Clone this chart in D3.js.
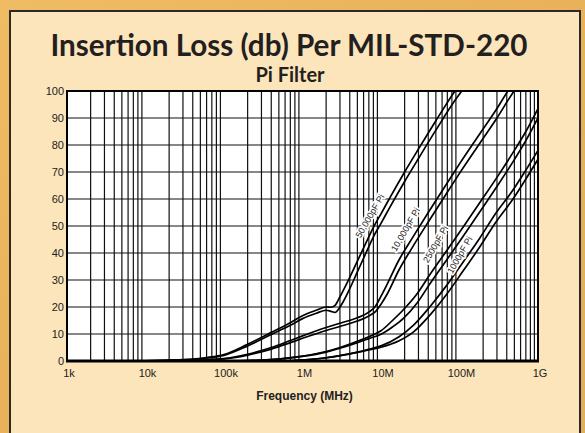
<!DOCTYPE html>
<meta charset="utf-8">
<style>
    body {
        margin: 0;
        background: #eab35c;
    }

    .axis-label {
        font: 11px "Liberation Sans", Arial, sans-serif;
        fill: #222;
    }

    .grid line {
        stroke: #111;
        stroke-width: 1.2;
    }

    .curve {
        fill: none;
        stroke: #000;
        stroke-width: 1.7;
        stroke-linejoin: round;
    }

    .curve-label {
        font: 9px "Liberation Sans", Arial, sans-serif;
        fill: #222;
        stroke: #fff;
        stroke-width: 3.5;
        paint-order: stroke;
        stroke-linejoin: round;
    }

    .title {
        font-family: Lato, "Open Sans", sans-serif;
        font-weight: bold;
        fill: #231f20;
    }
</style>

<body>
    <svg class="chart"></svg>
</body>

<script src="https://d3js.org/d3.v7.min.js"></script>
<script>
    ///////////////////////
    // Data (frequency in Hz, insertion loss in dB)
    // every filter is drawn as a pair of lines
    var pi50000Freq = [1e3, 1e4, 3e4, 6e4, 1e5, 2e5, 4e5, 7e5, 1e6, 1.5e6, 2e6, 2.3e6, 2.6e6, 3e6, 4e6, 5e6, 6.5e6, 8e6, 1e7, 1.3e7, 2e7, 3e7, 5e7, 9e7, 1.1e8];
    var pi50000Upper = [0, 0.1, 0.5, 1.3, 2.4, 6.2, 10.6, 14.2, 16.8, 18.8, 20, 19.9, 20.6, 23.8, 31, 37, 44, 49.5, 54.5, 60.5, 70, 78.5, 89, 100.5, 104];
    var pi50000Lower = [0, 0.1, 0.4, 1.1, 2.1, 5.6, 9.8, 13.2, 15.7, 17.7, 18.8, 18.4, 18.0, 20.0, 26.8, 33, 40.3, 46, 51, 57, 66.5, 75, 85.5, 97, 100.5];

    var pi10000Freq = [1e3, 1e4, 3e4, 1e5, 2e5, 4e5, 7e5, 1e6, 2e6, 3e6, 5e6, 7e6, 8.5e6, 1e7, 1.2e7, 1.7e7, 2.5e7, 4e7, 7e7, 1e8, 1.8e8, 3e8, 4.2e8, 5e8];
    var pi10000Upper = [0, 0, 0.2, 0.9, 2.5, 5, 7.6, 9.3, 12.4, 14, 16, 18.1, 20.3, 24, 28.5, 37.5, 45.5, 55, 66, 73, 84, 93.5, 100.3, 103.5];
    var pi10000Lower = [0, 0, 0.2, 0.8, 2.2, 4.4, 6.8, 8.4, 11.3, 12.8, 14.8, 16.7, 18.3, 21, 24.8, 33.8, 42, 51.5, 62.5, 69.5, 80.5, 90, 96.8, 100.2];

    var pi2500Freq = [1e3, 1e5, 3e5, 1e6, 2e6, 3e6, 5e6, 7e6, 1e7, 1.4e7, 1.9e7, 2.9e7, 4.2e7, 7e7, 1.12e8, 1.8e8, 3e8, 5e8, 7e8, 1e9];
    var pi2500Upper = [0, 0, 0.3, 1.8, 3.5, 5, 7.3, 9, 11.2, 15, 18.8, 25, 32, 41.2, 49.7, 58.5, 68, 78, 85, 93.5];
    var pi2500Lower = [0, 0, 0.3, 1.7, 3.3, 4.7, 6.8, 8.3, 9.9, 12.6, 15.6, 21.6, 28.6, 37.8, 46.3, 55.1, 64.6, 74.6, 81.6, 90];

    var pi1000Freq = [1e3, 3e5, 7e5, 1e6, 2e6, 3e6, 5e6, 7e6, 1e7, 1.7e7, 2.6e7, 4.2e7, 6.9e7, 1.12e8, 1.8e8, 2.9e8, 4.8e8, 7e8, 1e9];
    var pi1000Upper = [0, 0, 0.1, 0.4, 1.2, 2, 3.3, 4.3, 5.6, 9, 13.3, 20.1, 28.1, 36.8, 45.4, 54.7, 63.3, 70.7, 78];
    var pi1000Lower = [0, 0, 0.1, 0.4, 1.2, 2, 3.2, 4.1, 5.1, 7.5, 10.8, 17, 24.8, 33.5, 42.1, 51.4, 60, 67.4, 74.7];

    // curve labels, anchored at (frequency, dB)
    var labelText = ["50,000pF Pi", "10,000pF Pi", "2500pF Pi", "1000pF Pi"];
    var labelFreq = [7.24e6, 2.05e7, 4.94e7, 1.01e8];
    var labelDb = [53.7, 48.7, 43.3, 39.3];

    // ticks
    var xTickValues = [1e3, 1e4, 1e5, 1e6, 1e7, 1e8, 1e9];
    var xTickLabels = ["1k", "10k", "100k", "1M", "10M", "100M", "1G"];
    var yTickValues = [0, 10, 20, 30, 40, 50, 60, 70, 80, 90, 100];

    ///////////////////////
    // Chart Size Setup
    var W = 585, H = 433;
    var plot = { left: 67, right: 538, top: 91, bottom: 361 };

    var svg = d3.select(".chart")
        .attr("width", W)
        .attr("height", H);

    ///////////////////////
    // Backgrounds
    var defs = svg.append("defs");
    var grad = defs.append("linearGradient")
        .attr("id", "outerGrad")
        .attr("x1", 0).attr("y1", 0)
        .attr("x2", 1).attr("y2", 1);
    grad.append("stop").attr("offset", "0%").attr("stop-color", "#f0bc63");
    grad.append("stop").attr("offset", "50%").attr("stop-color", "#e8b15a");
    grad.append("stop").attr("offset", "100%").attr("stop-color", "#e2ad5e");

    svg.append("rect")
        .attr("width", W)
        .attr("height", H)
        .attr("fill", "url(#outerGrad)");

    svg.append("rect")
        .attr("x", 10)
        .attr("y", 11)
        .attr("width", 570)
        .attr("height", H + 20)
        .attr("fill", "#fde5bb")
        .attr("stroke", "#2a2a2a")
        .attr("stroke-width", 2);

    defs.append("clipPath")
        .attr("id", "plotClip")
        .append("rect")
        .attr("x", plot.left)
        .attr("y", plot.top)
        .attr("width", plot.right - plot.left)
        .attr("height", plot.bottom - plot.top);

    ///////////////////////
    // Scales
    var x = d3.scaleLog()
        .domain([1e3, 1e9])
        .range([plot.left, plot.right]);

    var y = d3.scaleLinear()
        .domain([0, 100])
        .range([plot.bottom, plot.top]);

    svg.append("rect")
        .attr("x", plot.left)
        .attr("y", plot.top)
        .attr("width", plot.right - plot.left)
        .attr("height", plot.bottom - plot.top)
        .attr("fill", "#fff");

    ///////////////////////
    // Grid
    var xGrid = [];
    xTickValues.slice(0, -1).forEach(function(d) {
        for (var k = 2; k <= 9; k++) xGrid.push(d * k);
    });

    var grid = svg.append("g").attr("class", "grid");

    grid.selectAll(".vx")
        .data(xGrid)
        .enter().append("line")
        .attr("class", "vx")
        .attr("x1", function(d) { return x(d); })
        .attr("x2", function(d) { return x(d); })
        .attr("y1", plot.top)
        .attr("y2", plot.bottom);

    grid.selectAll(".vy")
        .data(yTickValues.slice(1, -1))
        .enter().append("line")
        .attr("class", "vy")
        .attr("x1", plot.left)
        .attr("x2", plot.right)
        .attr("y1", function(d) { return y(d); })
        .attr("y2", function(d) { return y(d); });

    ///////////////////////
    // Curves
    var line = d3.line()
        .x(function(d) { return x(d[0]); })
        .y(function(d) { return y(d[1]); })
        .curve(d3.curveMonotoneX);

    var pairs = [
        [pi50000Freq, pi50000Upper], [pi50000Freq, pi50000Lower],
        [pi10000Freq, pi10000Upper], [pi10000Freq, pi10000Lower],
        [pi2500Freq, pi2500Upper], [pi2500Freq, pi2500Lower],
        [pi1000Freq, pi1000Upper], [pi1000Freq, pi1000Lower]
    ];

    var curves = svg.append("g").attr("clip-path", "url(#plotClip)");

    pairs.forEach(function(p) {
        var pts = p[0].map(function(f, i) { return [f, p[1][i]]; });
        curves.append("path")
            .datum(pts)
            .attr("class", "curve")
            .attr("d", line);
    });

    ///////////////////////
    // Curve labels
    svg.append("g")
        .selectAll("text")
        .data(labelText)
        .enter().append("text")
        .attr("class", "curve-label")
        .attr("text-anchor", "middle")
        .attr("dy", "0.35em")
        .attr("transform", function(d, i) {
            return "translate(" + x(labelFreq[i]) + "," + y(labelDb[i]) + ") rotate(-60)";
        })
        .text(function(d) { return d; });

    ///////////////////////
    // Frame
    svg.append("rect")
        .attr("x", plot.left)
        .attr("y", plot.top)
        .attr("width", plot.right - plot.left)
        .attr("height", plot.bottom - plot.top)
        .attr("fill", "none")
        .attr("stroke", "#000")
        .attr("stroke-width", 2);

    svg.append("line")
        .attr("x1", plot.left - 1)
        .attr("x2", plot.right + 1)
        .attr("y1", plot.bottom)
        .attr("y2", plot.bottom)
        .attr("stroke", "#000")
        .attr("stroke-width", 3);

    ///////////////////////
    // Axis labels
    svg.append("g")
        .selectAll("text")
        .data(yTickValues)
        .enter().append("text")
        .attr("class", "axis-label")
        .attr("text-anchor", "end")
        .attr("x", plot.left - 3)
        .attr("y", function(d) { return y(d) + 4; })
        .text(function(d) { return d; });

    svg.append("g")
        .selectAll("text")
        .data(xTickValues)
        .enter().append("text")
        .attr("class", "axis-label")
        .attr("text-anchor", "middle")
        .attr("x", function(d) { return x(d) + 2; })
        .attr("y", plot.bottom + 16)
        .text(function(d, i) { return xTickLabels[i]; });

    svg.append("text")
        .text("Frequency (MHz)")
        .attr("text-anchor", "middle")
        .attr("x", (plot.left + plot.right) / 2 + 2)
        .attr("y", 400)
        .style("font", "bold 12px 'Liberation Sans', Arial, sans-serif")
        .attr("fill", "#222");

    ///////////////////////
    // Titles
    svg.append("text")
        .attr("class", "title")
        .text("Insertion Loss (db) Per MIL-STD-220")
        .attr("text-anchor", "middle")
        .attr("x", 289)
        .attr("y", 55.5)
        .attr("textLength", 477)
        .attr("lengthAdjust", "spacingAndGlyphs")
        .style("font-size", "31px");

    svg.append("text")
        .attr("class", "title")
        .text("Pi Filter")
        .attr("text-anchor", "middle")
        .attr("x", 290)
        .attr("y", 82)
        .style("font-size", "20px");
</script>
